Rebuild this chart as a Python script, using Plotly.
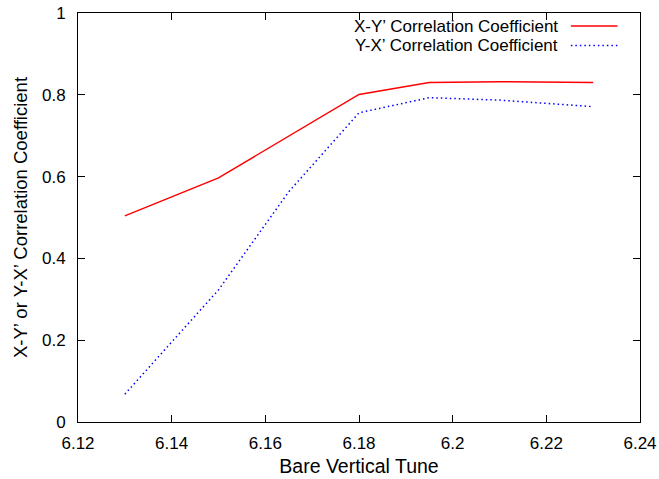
import plotly.graph_objects as go

# Bare vertical tune scan
tune_xy = [6.13, 6.15, 6.18, 6.195, 6.21, 6.23]
corr_xy = [0.504, 0.597, 0.801, 0.830, 0.832, 0.830]

tune_yx = [6.13, 6.15, 6.165, 6.18, 6.195, 6.21, 6.23]
corr_yx = [0.068, 0.323, 0.563, 0.756, 0.793, 0.787, 0.771]

x_ticks = [6.12, 6.14, 6.16, 6.18, 6.20, 6.22, 6.24]
x_tick_text = ["6.12", "6.14", "6.16", "6.18", "6.2", "6.22", "6.24"]
y_ticks = [0, 0.2, 0.4, 0.6, 0.8, 1.0]
y_tick_text = ["0", "0.2", "0.4", "0.6", "0.8", "1"]

series_names = ["X-Y\u2019 Correlation Coefficient", "Y-X\u2019 Correlation Coefficient"]
series_colors = ["#ff0000", "#0000ff"]
series_dash = ["solid", "1.5px,3px"]

FONT = "Liberation Sans, Arial, Helvetica, sans-serif"

fig = go.Figure()
fig.add_trace(go.Scatter(x=tune_xy, y=corr_xy, mode="lines", name=series_names[0],
                         line=dict(color=series_colors[0], width=1.5, dash=series_dash[0])))
fig.add_trace(go.Scatter(x=tune_yx, y=corr_yx, mode="lines", name=series_names[1],
                         line=dict(color=series_colors[1], width=1.5, dash=series_dash[1])))

axis_common = dict(
    showgrid=False, zeroline=False, showline=True, mirror="ticks",
    linecolor="black", linewidth=1, ticks="inside", ticklen=7,
    tickcolor="black", tickwidth=1, tickfont=dict(family=FONT, size=17, color="black"),
)

fig.update_xaxes(range=[6.12, 6.24], tickvals=x_ticks, ticktext=x_tick_text,
                 ticklabelstandoff=6,
                 title=dict(text="Bare Vertical Tune", standoff=6,
                            font=dict(family=FONT, size=19.5, color="black")),
                 **axis_common)
fig.update_yaxes(range=[0, 1], tickvals=y_ticks, ticktext=y_tick_text,
                 ticklabelstandoff=8,
                 title=dict(text="X-Y\u2019 or Y-X\u2019 Correlation Coefficient", standoff=9,
                            font=dict(family=FONT, size=18.5, color="black")),
                 **axis_common)

# gnuplot-style key: right-aligned labels followed by a line sample
key_rows = [0.968, 0.9205]
for name, color, dash, yk in zip(series_names, series_colors, series_dash, key_rows):
    fig.add_annotation(x=0.855, y=yk, xref="paper", yref="paper", text=name,
                       showarrow=False, xanchor="right", yanchor="middle", borderpad=0,
                       font=dict(family=FONT, size=17, color="black"))
    fig.add_shape(type="line", xref="paper", yref="paper", x0=0.877, x1=0.96, y0=yk, y1=yk,
                  line=dict(color=color, width=1.5, dash=dash))

fig.update_layout(
    width=659, height=479,
    margin=dict(l=78, r=19, t=13, b=57, autoexpand=False),
    paper_bgcolor="white", plot_bgcolor="white",
    showlegend=False,
    font=dict(family=FONT, color="black"),
)

fig.write_html("out.html")
